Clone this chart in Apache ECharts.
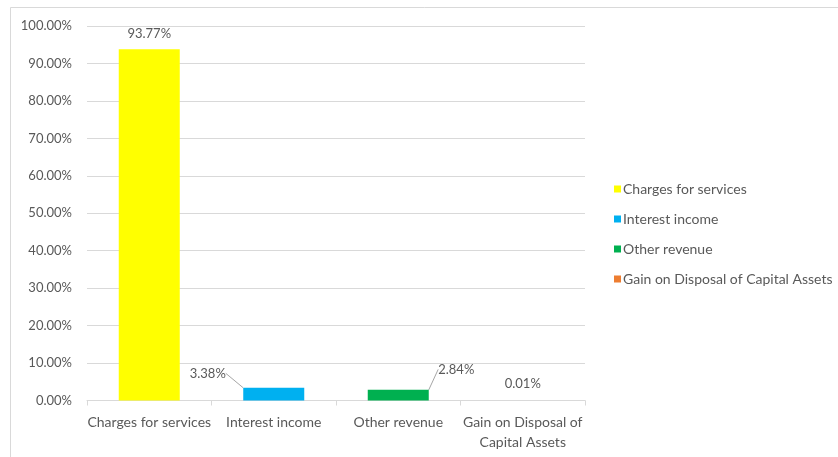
<!DOCTYPE html>
<html>
<head>
<meta charset="utf-8">
<script src="https://cdn.jsdelivr.net/npm/echarts@6/dist/echarts.min.js"></script>
<style>
  html, body { margin: 0; padding: 0; background: #fff; }
  #chart { width: 838px; height: 457px; }
</style>
</head>
<body>
<div id="chart"></div>
<script>
// Revenue share by source (percent of total)
const categories = ['Charges for services', 'Interest income', 'Other revenue', 'Gain on Disposal of Capital Assets'];
const axisLabels = ['Charges for services', 'Interest income', 'Other revenue', 'Gain on Disposal of\nCapital Assets'];
const shares = [93.77, 3.38, 2.84, 0.01];
const colors = ['#FFFF00', '#00B0F0', '#00B050', '#ED7D31'];
const yTicks = { min: 0, max: 100, interval: 10 };

// Label offsets so the two small bars get callout lines like the original report
const labelShift = [
  { dx: 0, dy: -3 },
  { dx: -66, dy: -2 },
  { dx: 58, dy: -8 },
  { dx: 0, dy: -4 }
];

const font = 'Lato, "Open Sans", sans-serif';
const textColor = '#595959';
const gridColor = '#d9d9d9';

const chart = echarts.init(document.getElementById('chart'), null, { renderer: 'canvas' });

const series = categories.map((name, i) => ({
  name: name,
  type: 'bar',
  barWidth: '49%',
  barGap: '-100%',
  itemStyle: { color: colors[i] },
  data: shares.map((v, j) => (j === i ? v : '-')),
  label: {
    show: true,
    position: 'top',
    distance: 6,
    color: textColor,
    fontFamily: font,
    fontSize: 13,
    formatter: p => p.value.toFixed(2) + '%'
  },
  labelLayout: labelShift[i],
  labelLine: {
    show: i === 1 || i === 2,
    lineStyle: { color: '#a6a6a6', width: 1 },
    length2: 0
  }
}));

chart.setOption({
  animation: false,
  backgroundColor: '#fff',
  graphic: [{
    type: 'rect',
    shape: { x: 10.5, y: 7.5, width: 900, height: 500 },
    style: { fill: 'none', stroke: gridColor, lineWidth: 1 },
    silent: true,
    z: -10
  }],
  grid: { left: 87, right: 253, top: 26, bottom: 56.5, containLabel: false },
  legend: {
    orient: 'vertical',
    left: 609,
    top: 176,
    itemWidth: 7,
    itemHeight: 7,
    itemGap: 14,
    icon: 'rect',
    data: categories,
    textStyle: { color: textColor, fontFamily: font, fontSize: 14, lineHeight: 16, padding: [0, 0, 0, -3] }
  },
  xAxis: {
    type: 'category',
    data: categories,
    axisLine: { lineStyle: { color: gridColor } },
    axisTick: { show: true, length: 5, lineStyle: { color: gridColor } },
    axisLabel: {
      color: textColor,
      fontFamily: font,
      fontSize: 14,
      margin: 12,
      lineHeight: 20,
      interval: 0,
      formatter: (v, idx) => axisLabels[idx]
    }
  },
  yAxis: {
    type: 'value',
    min: yTicks.min,
    max: yTicks.max,
    interval: yTicks.interval,
    axisLine: { show: false },
    axisTick: { show: false },
    splitLine: { lineStyle: { color: gridColor } },
    axisLabel: {
      color: textColor,
      fontFamily: font,
      fontSize: 13,
      margin: 15,
      formatter: v => v.toFixed(2) + '%'
    }
  },
  series: series
});
</script>
</body>
</html>
